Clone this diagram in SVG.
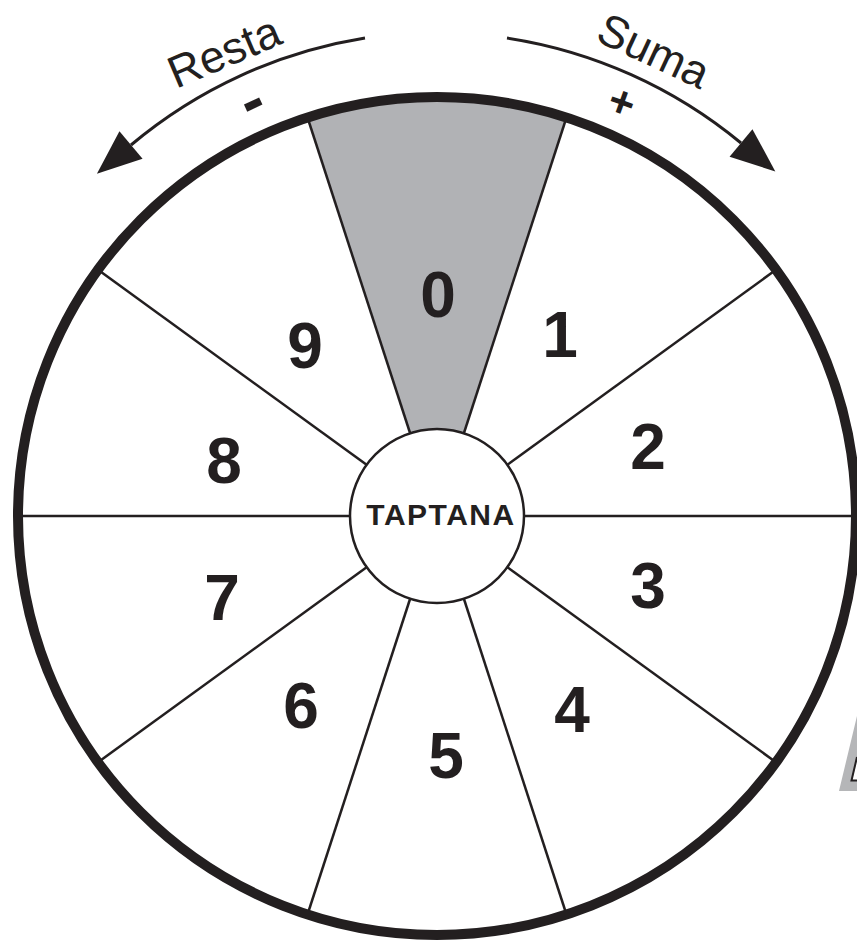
<svg xmlns="http://www.w3.org/2000/svg" width="857" height="940" viewBox="0 0 857 940">
<style>
.line{stroke:#231f20;stroke-width:2.5;fill:none}
.digit{font-family:"Liberation Sans",Arial,sans-serif;font-weight:bold;font-size:64px;fill:#231f20;text-anchor:middle}
.hand{font-family:"Liberation Sans",Arial,sans-serif;font-size:45px;fill:#231f20}
.sign{font-family:"Liberation Sans",Arial,sans-serif;font-weight:bold;fill:#231f20;text-anchor:middle}
.arc{stroke:#231f20;stroke-width:3;fill:none}
</style>
<defs>
<marker id="head" markerUnits="userSpaceOnUse" markerWidth="50" markerHeight="50" viewBox="-2 -20 46 40" refX="0" refY="0" orient="auto">
<path d="M0,-16.5 L41,0 L0,16.5 Z" fill="#231f20"/>
</marker>
</defs>
<rect width="857" height="940" fill="#ffffff"/>
<g id="wheel">
<circle cx="437" cy="516" r="419" fill="#ffffff"/>
<path id="sector-0-fill" d="M410.12,433.26 L307.52,117.51 A419,419 0 0 1 566.48,117.51 L463.88,433.26 A87,87 0 0 0 410.12,433.26 Z" fill="#b1b2b5"/>
</g>
<g id="connectors">
<line class="line" x1="410.12" y1="433.26" x2="307.52" y2="117.51"/>
<line class="line" x1="463.88" y1="433.26" x2="566.48" y2="117.51"/>
<line class="line" x1="366.62" y1="464.86" x2="98.02" y2="269.72"/>
<line class="line" x1="507.38" y1="464.86" x2="775.98" y2="269.72"/>
<line class="line" x1="350" y1="516" x2="18" y2="516"/>
<line class="line" x1="524" y1="516" x2="856" y2="516"/>
<line class="line" x1="366.62" y1="567.14" x2="98.02" y2="762.28"/>
<line class="line" x1="507.38" y1="567.14" x2="775.98" y2="762.28"/>
<line class="line" x1="410.12" y1="598.74" x2="307.52" y2="914.49"/>
<line class="line" x1="463.88" y1="598.74" x2="566.48" y2="914.49"/>
<path id="arrow-resta" class="arc" d="M365,38 A481,481 0 0 0 131,145" marker-end="url(#head)"/>
<path id="arrow-suma" class="arc" d="M507,38 A481,481 0 0 1 741,143" marker-end="url(#head)"/>
</g>
<g id="rim">
<circle cx="437" cy="516" r="419" fill="none" stroke="#231f20" stroke-width="10"/>
</g>
<g id="hub">
<circle cx="437" cy="516" r="87" fill="#ffffff" stroke="#231f20" stroke-width="2.5"/>
<text x="441" y="525" font-family="'Liberation Sans',Arial,sans-serif" font-weight="bold" font-size="30" letter-spacing="1.5" text-anchor="middle" fill="#231f20">TAPTANA</text>
</g>
<g id="n0"><text class="digit" x="438" y="317">0</text></g>
<g id="n1"><text class="digit" x="560" y="357">1</text></g>
<g id="n2"><text class="digit" x="648" y="469">2</text></g>
<g id="n3"><text class="digit" x="648" y="608">3</text></g>
<g id="n4"><text class="digit" x="572" y="732">4</text></g>
<g id="n5"><text class="digit" x="446" y="778">5</text></g>
<g id="n6"><text class="digit" x="301" y="728">6</text></g>
<g id="n7"><text class="digit" x="222" y="620">7</text></g>
<g id="n8"><text class="digit" x="224" y="483">8</text></g>
<g id="n9"><text class="digit" x="305" y="368">9</text></g>
<g id="label-resta">
<text class="hand" transform="translate(176,89) rotate(-23)">Resta</text>
<text class="sign" font-size="66" transform="translate(252,102) rotate(-25)" y="20">-</text>
</g>
<g id="label-suma">
<text class="hand" transform="translate(594,40) rotate(25)">Suma</text>
<text class="sign" font-size="44" transform="translate(622,102) rotate(20)" y="15">+</text>
</g>
<g id="corner-sign">
<path d="M857,716 L839,791 L857,791 L857,781 L852,781 L857,759 Z" fill="#b5b6b8"/>
<path d="M857,757 L851.5,780.5 L857,780.5" fill="none" stroke="#231f20" stroke-width="2"/>
</g>
</svg>
